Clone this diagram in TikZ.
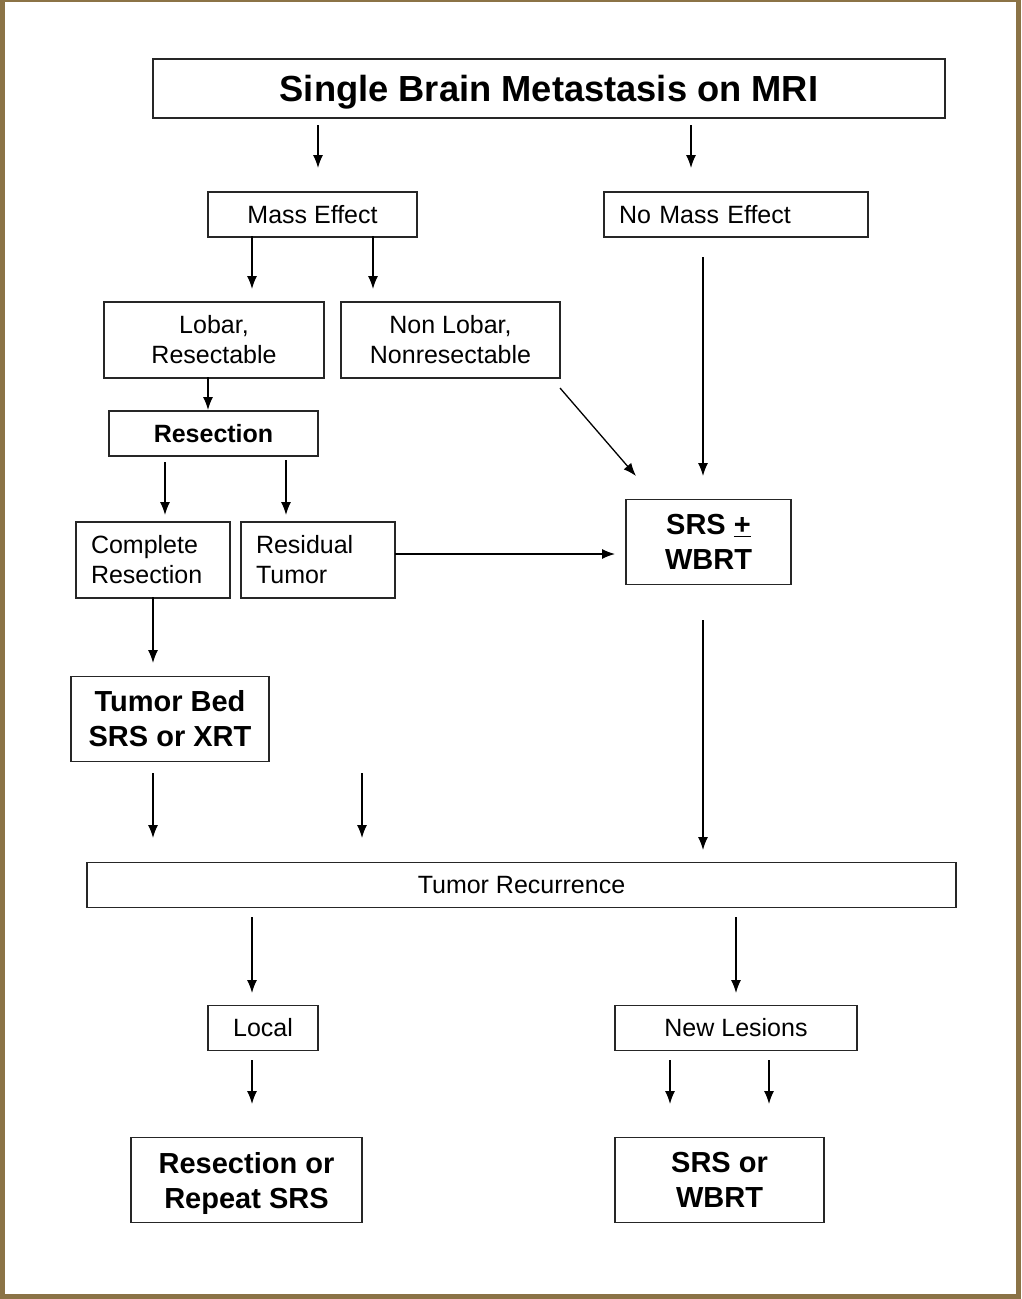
\documentclass[tikz,border=0pt]{standalone}
\usepackage{fontspec}
\setmainfont{Liberation Sans}
\usetikzlibrary{arrows.meta}
\definecolor{framebrown}{RGB}{139,115,70}
\begin{document}
\begin{tikzpicture}[x=1pt,y=-1pt,
  box/.style={draw=black!85,line width=1.2pt,rectangle,inner sep=0pt,align=center,
    font=\fontsize{25}{30}\selectfont},
  lbox/.style={draw=black!85,line width=1.2pt,rectangle,inner xsep=15pt,inner ysep=0pt,align=left,
    font=\fontsize{25}{30}\selectfont},
  bbox/.style={box,font=\fontsize{29}{35}\selectfont\bfseries},
  arr/.style={line width=1.3pt,-{Latex[length=13pt,width=10pt]}}]
\fill[framebrown] (0,0) rectangle (1021,1299);
\fill[white] (5,2) rectangle (1016,1294);
\useasboundingbox (0,0) rectangle (1021,1299);

\node[box,minimum width=792,minimum height=59,text depth=0pt,font=\fontsize{36.3}{40}\selectfont\bfseries] (title) at (549,88.5) {Single Brain Metastasis on MRI};
\node[box,minimum width=209,minimum height=45] (mass) at (312.5,214.5) {Mass Effect};
\node[lbox,text width=234,minimum height=45] (nomass) at (736,214.5) {No Mass Effect};
\node[box,minimum width=220,minimum height=76] (lobar) at (214,340) {Lobar,\\Resectable};
\node[box,minimum width=219,minimum height=76] (nonlobar) at (450.5,340) {Non Lobar,\\Nonresectable};
\node[box,minimum width=209,minimum height=45,font=\fontsize{25}{30}\selectfont\bfseries] (resect) at (213.5,433.5) {Resection};
\node[lbox,text width=124,minimum height=76] (complete) at (153,560) {Complete\\Resection};
\node[lbox,text width=124,minimum height=76] (residual) at (318,560) {Residual\\Tumor};
\node[bbox,minimum width=165,minimum height=85] (srs) at (708.5,542) {SRS \underline{+}\\WBRT};
\node[bbox,minimum width=198,minimum height=85] (bed) at (170,719) {Tumor Bed\\SRS or XRT};
\node[box,minimum width=869,minimum height=45] (recur) at (521.5,885) {Tumor Recurrence};
\node[box,minimum width=110,minimum height=45] (local) at (263,1028) {Local};
\node[box,minimum width=242,minimum height=45] (newles) at (736,1028) {New Lesions};
\node[bbox,minimum width=231,minimum height=85,text depth=0pt] (resrep) at (246.5,1180) {Resection or\\Repeat SRS};
\node[bbox,minimum width=209,minimum height=85] (srswbrt) at (719.5,1180) {SRS or\\WBRT};

% free arrow end points
\coordinate (a1s) at (318,125); \coordinate (a1e) at (318,168);
\coordinate (a2s) at (691,125); \coordinate (a2e) at (691,168);
\coordinate (a3s) at (252,236); \coordinate (a3e) at (252,289);
\coordinate (a4s) at (373,236); \coordinate (a4e) at (373,289);
\coordinate (a5s) at (703,257); \coordinate (a5e) at (703,476);
\coordinate (a6s) at (208,377); \coordinate (a6e) at (208,410);
\coordinate (a7s) at (560,388); \coordinate (a7e) at (636,476);
\coordinate (a8s) at (165,462); \coordinate (a8e) at (165,515);
\coordinate (a9s) at (286,460); \coordinate (a9e) at (286,515);
\coordinate (a10s) at (395,554); \coordinate (a10e) at (615,554);
\coordinate (a11s) at (153,597); \coordinate (a11e) at (153,663);
\coordinate (a12s) at (703,620); \coordinate (a12e) at (703,850);
\coordinate (a13s) at (153,773); \coordinate (a13e) at (153,838);
\coordinate (a14s) at (362,773); \coordinate (a14e) at (362,838);
\coordinate (a15s) at (252,917); \coordinate (a15e) at (252,993);
\coordinate (a16s) at (736,917); \coordinate (a16e) at (736,993);
\coordinate (a17s) at (252,1060); \coordinate (a17e) at (252,1104);
\coordinate (a18s) at (670,1060); \coordinate (a18e) at (670,1104);
\coordinate (a19s) at (769,1060); \coordinate (a19e) at (769,1104);

\foreach \i in {1,...,19} { \draw[arr] (a\i s) -- (a\i e); }
\end{tikzpicture}
\end{document}
